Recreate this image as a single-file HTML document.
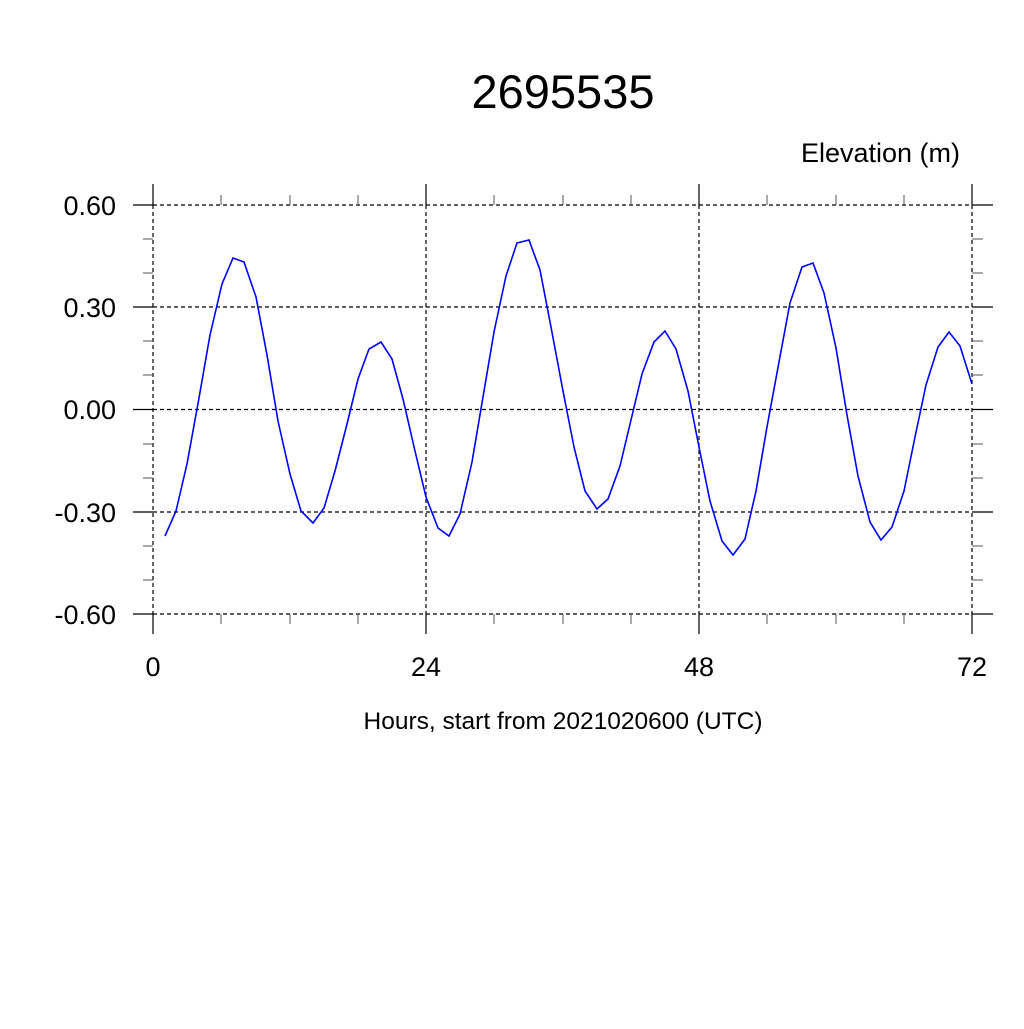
<!DOCTYPE html>
<html><head><style>body{margin:0;background:#fff}</style></head><body>
<svg width="1024" height="1024" xmlns="http://www.w3.org/2000/svg" font-family="Liberation Sans, sans-serif">
<rect width="1024" height="1024" fill="#fff"/>
<text x="563" y="108" font-size="47" text-anchor="middle">2695535</text>
<text x="960" y="162" font-size="27" text-anchor="end">Elevation (m)</text>
<g stroke="#000" stroke-width="1.2" stroke-dasharray="4,3">
<line x1="153" y1="205" x2="972" y2="205"/><line x1="153" y1="307" x2="972" y2="307"/>
<line x1="153" y1="409.5" x2="972" y2="409.5"/><line x1="153" y1="512" x2="972" y2="512"/>
<line x1="153" y1="614" x2="972" y2="614"/>
<line x1="153" y1="205" x2="153" y2="614"/><line x1="426" y1="205" x2="426" y2="614"/>
<line x1="699" y1="205" x2="699" y2="614"/><line x1="972" y1="205" x2="972" y2="614"/>
</g>
<g stroke="#000" stroke-width="1.2">
<path d="M133 205H153M133 307H153M133 409.5H153M133 512H153M133 614H153M972 205H993M972 307H993M972 409.5H993M972 512H993M972 614H993M153 184V205M426 184V205M699 184V205M972 184V205M153 614V634M426 614V634M699 614V634M972 614V634"/>
</g>
<g stroke="#555" stroke-width="1">
<path d="M143 239H153M143 273H153M143 341H153M143 375H153M143 444H153M143 478H153M143 546H153M143 580H153M972 239H983M972 273H983M972 341H983M972 375H983M972 444H983M972 478H983M972 546H983M972 580H983"/>
<path d="M221 195V205M290 195V205M358 195V205M494 195V205M563 195V205M631 195V205M767 195V205M836 195V205M904 195V205M221 614V624M290 614V624M358 614V624M494 614V624M563 614V624M631 614V624M767 614V624M836 614V624M904 614V624"/>
</g>
<g font-size="27" text-anchor="end">
<text x="116" y="215">0.60</text><text x="116" y="317">0.30</text><text x="116" y="419">0.00</text><text x="116" y="522">-0.30</text><text x="116" y="624">-0.60</text>
</g>
<g font-size="27" text-anchor="middle">
<text x="153" y="676">0</text><text x="426" y="676">24</text><text x="699" y="676">48</text><text x="972" y="676">72</text>
</g>
<text x="563" y="729" font-size="24.5" text-anchor="middle">Hours, start from 2021020600 (UTC)</text>
<polyline fill="none" stroke="#0000ff" stroke-width="1.6" points="165,536 176,511 187,464 199,398 210,335 222,284 233,258 244,262 256,297 267,355 278,421 290,474 301,511 313,523 324,508 335,471 347,424 358,379 369,349 381,342 392,359 403,399 415,451 426,497 438,528 449,536 460,514 472,462 483,397 494,332 506,276 517,243 529,240 540,270 551,327 563,391 574,447 585,491 597,509 608,499 620,466 631,420 642,374 654,342 665,331 676,349 688,391 699,447 710,501 722,541 733,555 745,539 756,491 767,427 779,362 790,303 802,267 813,263 824,293 836,348 847,415 858,476 870,522 881,540 892,527 904,491 915,437 926,385 938,347 949,332 960,346 972,384"/>
</svg>
</body></html>
